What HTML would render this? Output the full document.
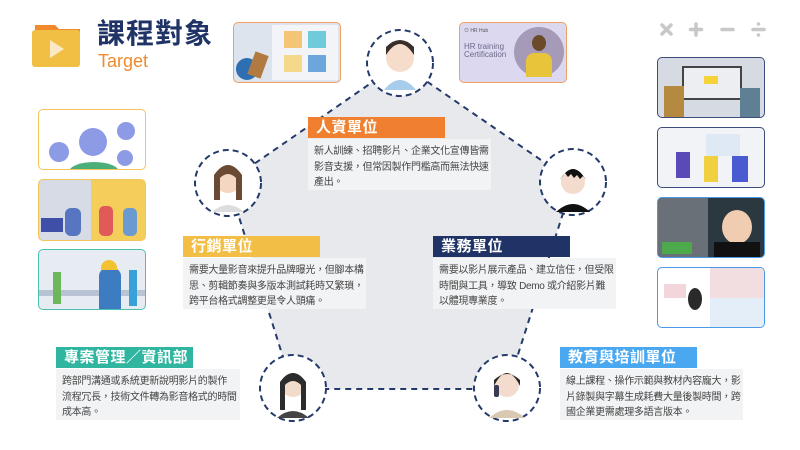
<!DOCTYPE html>
<html><head><meta charset="utf-8">
<style>
*{margin:0;padding:0;box-sizing:border-box}
body{width:800px;height:450px;background:#fff;position:relative;overflow:hidden;font-family:"Liberation Sans","Noto Sans CJK TC",sans-serif}
.a{position:absolute}
.hd{position:absolute;height:21px;color:#fff;font-size:15px;font-weight:bold;padding-left:8px;line-height:21px;letter-spacing:0.5px}
.bd{position:absolute;background:#f2f3f5;color:#444;font-size:10px;line-height:15.5px;padding:5px 6px;letter-spacing:-0.3px;white-space:nowrap}
.img{position:absolute;border-radius:5px;border:1.5px solid;overflow:hidden}
</style></head><body>
<svg class="a" style="left:0;top:0" width="800" height="450">
<polygon points="400,63 573,182 507,389 293,389 228,182" fill="#e8e9ec" stroke="#243a6b" stroke-width="2" stroke-dasharray="6,5"/>
<path d="M35,25 h20 l4,4 h21 v6 h-45z" fill="#f08a2c"/>
<rect x="32" y="30" width="48" height="37" rx="3" fill="#f2bf45"/>
<polygon points="50,40 50,58 64,49" fill="#fbe9c5"/>
<g stroke="#c8c8c8" stroke-width="3.5" stroke-linecap="round">
<line x1="662" y1="25" x2="671" y2="34"/><line x1="671" y1="25" x2="662" y2="34"/>
<line x1="696" y1="24" x2="696" y2="35"/><line x1="690.5" y1="29.5" x2="701.5" y2="29.5"/>
<line x1="722" y1="29.5" x2="733" y2="29.5"/>
<line x1="753" y1="29.5" x2="764" y2="29.5"/></g>
<circle cx="758.5" cy="24" r="1.8" fill="#c8c8c8"/><circle cx="758.5" cy="35" r="1.8" fill="#c8c8c8"/>
<g fill="#fff" stroke="#243a6b" stroke-width="2" stroke-dasharray="6,4">
<circle cx="400" cy="63" r="33"/><circle cx="228" cy="183" r="33"/><circle cx="573" cy="182" r="33"/>
<circle cx="293" cy="388" r="33"/><circle cx="507" cy="388" r="33"/></g>
<g>
<circle cx="400" cy="58" r="14" fill="#f6dccb"/><path d="M386,55 q14,-22 28,0 v-8 q-14,-14 -28,0z" fill="#3a2e2a"/><path d="M384,90 q16,-20 32,0z" fill="#a8cdea"/>
<circle cx="228" cy="180" r="13" fill="#f3d7c0"/><path d="M214,200 v-25 q14,-20 28,0 v25 h-6 v-22 q-8,-8 -16,0 v22z" fill="#6b4a33"/><path d="M212,212 q16,-14 32,0z" fill="#ddd"/>
<circle cx="573" cy="182" r="12" fill="#f3dccd"/><path d="M560,180 q13,-22 26,0 l-3,-4 -3,3 -3,-4 -3,3 -3,-4 -3,3 -3,-4z" fill="#111"/><path d="M556,212 q17,-16 34,0z" fill="#111"/>
<circle cx="293" cy="385" r="12" fill="#f1dccb"/><path d="M280,410 v-28 q13,-18 26,0 v28 h-5 v-25 q-8,-8 -16,0 v25z" fill="#2c2c2c"/><path d="M277,418 q16,-14 32,0z" fill="#444"/>
<circle cx="507" cy="385" r="12" fill="#f3dccd"/><path d="M494,386 q13,-26 26,0 v-6 q-13,-12 -26,0z" fill="#2e2925"/><path d="M489,418 q18,-16 36,0z" fill="#d9c8b2"/><rect x="494" y="385" width="5" height="12" rx="2" fill="#3a3a55"/>
</g>
</svg>
<div class="a" style="left:97px;top:14px;font-size:28px;line-height:40px;font-weight:bold;color:#1f3366;letter-spacing:1px">課程對象</div>
<div class="a" style="left:98px;top:51px;font-size:18px;line-height:20px;color:#f08a2c">Target</div>

<div class="img" style="left:233px;top:22px;width:108px;height:61px;border-color:#f0a060;background:#dde4ee">
<div class="a" style="left:38px;top:2px;width:66px;height:55px;background:#f2f4f8"></div>
<div class="a" style="left:50px;top:8px;width:18px;height:17px;background:#f5c576"></div>
<div class="a" style="left:74px;top:8px;width:18px;height:17px;background:#6fcbdc"></div>
<div class="a" style="left:50px;top:32px;width:18px;height:17px;background:#f5d88a"></div>
<div class="a" style="left:74px;top:32px;width:18px;height:17px;background:#6ca6dc"></div>
<div class="a" style="left:2px;top:35px;width:22px;height:22px;border-radius:50%;background:#2d6fb1"></div>
<div class="a" style="left:17px;top:30px;width:14px;height:24px;background:#b07a40;transform:rotate(20deg)"></div>
</div>
<div class="img" style="left:459px;top:22px;width:108px;height:61px;border-color:#f0a060;background:#dcd8ef">
<div class="a" style="left:4px;top:4px;font-size:5px;color:#555">⊙ HR Hub</div>
<div class="a" style="left:4px;top:20px;font-size:8px;line-height:8px;color:#6a6a8a">HR training<br>Certification</div>
<div class="a" style="left:54px;top:4px;width:50px;height:50px;border-radius:50%;background:#a59ab8"></div>
<div class="a" style="left:66px;top:30px;width:26px;height:24px;border-radius:8px 8px 0 0;background:#e8c43a"></div>
<div class="a" style="left:72px;top:12px;width:14px;height:16px;border-radius:50%;background:#6b4a2a"></div>
</div>

<div class="img" style="left:38px;top:109px;width:108px;height:61px;border-color:#f2c45a;background:#fff">
<div class="a" style="left:40px;top:18px;width:28px;height:28px;border-radius:50%;background:#8d9ae6"></div>
<div class="a" style="left:10px;top:32px;width:20px;height:20px;border-radius:50%;background:#8d9ae6"></div>
<div class="a" style="left:78px;top:12px;width:18px;height:18px;border-radius:50%;background:#8d9ae6"></div>
<div class="a" style="left:78px;top:40px;width:16px;height:16px;border-radius:50%;background:#8d9ae6"></div>
<div class="a" style="left:30px;top:52px;width:50px;height:20px;border-radius:50%;background:#4caf7a"></div>
</div>
<div class="img" style="left:38px;top:179px;width:108px;height:62px;border-color:#f2c45a;background:#d6dbe6">
<div class="a" style="left:52px;top:0;width:56px;height:62px;background:#f4cd5a"></div>
<div class="a" style="left:2px;top:38px;width:22px;height:14px;background:#3f4fa8"></div>
<div class="a" style="left:26px;top:28px;width:16px;height:28px;border-radius:6px;background:#5775c0"></div>
<div class="a" style="left:60px;top:26px;width:14px;height:30px;border-radius:5px;background:#e05a5a"></div>
<div class="a" style="left:84px;top:28px;width:14px;height:28px;border-radius:5px;background:#6a9ad0"></div>
</div>
<div class="img" style="left:38px;top:249px;width:108px;height:61px;border-color:#4cc0b0;background:#e6ecf2">
<div class="a" style="left:0;top:40px;width:108px;height:6px;background:#b8c4d4"></div>
<div class="a" style="left:14px;top:22px;width:8px;height:32px;background:#6bb85a"></div>
<div class="a" style="left:60px;top:18px;width:22px;height:42px;border-radius:8px 8px 0 0;background:#3d7cc0"></div>
<div class="a" style="left:62px;top:10px;width:16px;height:10px;border-radius:8px 8px 0 0;background:#f2c230"></div>
<div class="a" style="left:90px;top:20px;width:8px;height:36px;background:#3aa0d8"></div>
</div>

<div class="img" style="left:657px;top:57px;width:108px;height:61px;border-color:#3d4e7e;background:#d6dae2">
<div class="a" style="left:24px;top:8px;width:60px;height:34px;background:#eceef2;border:2px solid #444"></div>
<div class="a" style="left:46px;top:18px;width:14px;height:8px;background:#f5d23a"></div>
<div class="a" style="left:6px;top:28px;width:20px;height:32px;background:#b58a40"></div>
<div class="a" style="left:82px;top:30px;width:20px;height:30px;background:#5e7f94"></div>
</div>
<div class="img" style="left:657px;top:127px;width:108px;height:61px;border-color:#3d4e7e;background:#f2f3f6">
<div class="a" style="left:48px;top:6px;width:34px;height:22px;background:#dfe8f5"></div>
<div class="a" style="left:18px;top:24px;width:14px;height:26px;background:#5a4ab8"></div>
<div class="a" style="left:46px;top:28px;width:14px;height:26px;background:#f0d040"></div>
<div class="a" style="left:74px;top:28px;width:16px;height:26px;background:#4a5ad0"></div>
</div>
<div class="img" style="left:657px;top:197px;width:108px;height:61px;border-color:#4a9ae8;background:#2c3840">
<div class="a" style="left:0;top:0;width:50px;height:61px;background:#6a7078"></div>
<div class="a" style="left:4px;top:44px;width:30px;height:12px;background:#4caa4c"></div>
<div class="a" style="left:64px;top:12px;width:30px;height:34px;border-radius:50%;background:#f0cdb0"></div>
<div class="a" style="left:56px;top:44px;width:46px;height:20px;background:#111"></div>
</div>
<div class="img" style="left:657px;top:267px;width:108px;height:61px;border-color:#4a9ae8;background:#fff">
<div class="a" style="left:52px;top:0;width:56px;height:30px;background:#f2dde0"></div>
<div class="a" style="left:52px;top:30px;width:56px;height:31px;background:#e4eef8"></div>
<div class="a" style="left:6px;top:16px;width:22px;height:14px;background:#f2d6dc"></div>
<div class="a" style="left:30px;top:20px;width:14px;height:22px;border-radius:50%;background:#2a2a2a"></div>
</div>

<div class="hd" style="left:308px;top:117px;width:137px;background:#f08030">人資單位</div>
<div class="bd" style="left:308px;top:139px;width:183px;height:51px">新人訓練、招聘影片、企業文化宣傳皆需<br>影音支援，但常因製作門檻高而無法快速<br>產出。</div>

<div class="hd" style="left:183px;top:236px;width:137px;background:#f2be45">行銷單位</div>
<div class="bd" style="left:183px;top:258px;width:183px;height:51px">需要大量影音來提升品牌曝光，但腳本構<br>思、剪輯節奏與多版本測試耗時又繁瑣，<br>跨平台格式調整更是令人頭痛。</div>

<div class="hd" style="left:433px;top:236px;width:137px;background:#1f3366">業務單位</div>
<div class="bd" style="left:433px;top:258px;width:183px;height:51px">需要以影片展示產品、建立信任，但受限<br>時間與工具，導致 Demo 或介紹影片難<br>以體現專業度。</div>

<div class="hd" style="left:56px;top:347px;width:137px;background:#2fb5a0">專案管理／資訊部門</div>
<div class="bd" style="left:56px;top:369px;width:184px;height:51px">跨部門溝通或系統更新說明影片的製作<br>流程冗長，技術文件轉為影音格式的時間<br>成本高。</div>

<div class="hd" style="left:560px;top:347px;width:137px;background:#4aa8f0">教育與培訓單位</div>
<div class="bd" style="left:560px;top:369px;width:183px;height:51px">線上課程、操作示範與教材內容龐大，影<br>片錄製與字幕生成耗費大量後製時間，跨<br>國企業更需處理多語言版本。</div>
</body></html>
